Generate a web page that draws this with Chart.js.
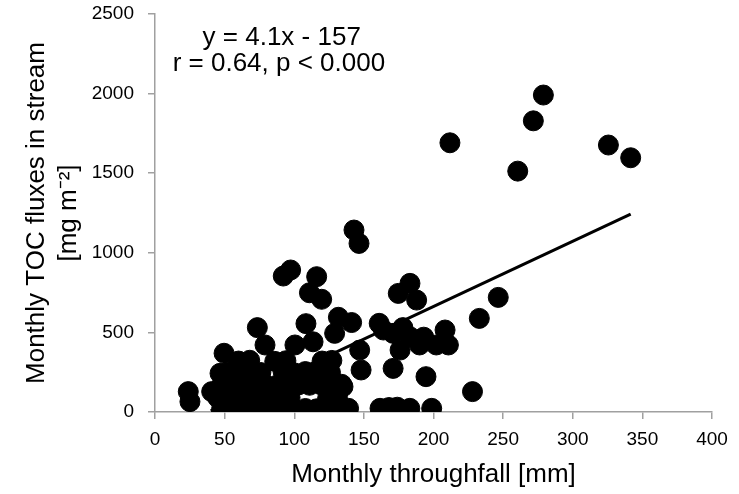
<!DOCTYPE html>
<html>
<head>
<meta charset="utf-8">
<script src="https://cdn.jsdelivr.net/npm/chart.js@4.4.1/dist/chart.umd.min.js"></script>
<style>
  html, body { margin: 0; padding: 0; background: #fff; }
  #wrap { width: 739px; height: 494px; }
</style>
</head>
<body>
<div id="wrap"><canvas id="canvas" width="739" height="494"></canvas></div>
<script>
// Valores: throughfall mensual [mm] y flujo de TOC [mg m-2]
const throughfall = [
  // puntos altos
  211.8, 278.9, 271.7, 260.5, 325.6, 341.6,
  // zona media derecha
  183.1, 174.7, 187.9, 246.5, 232.9, 208.3, 210.7, 202, 183, 190, 176, 171, 164, 161,
  194.6, 228, 178, 193,
  139, 161.6, 168, 174, 183, 198.7,
  // zona media
  142.9, 146.5, 92.1, 97.4, 116.1, 110.9, 119.7, 73.5, 108.4, 131.7, 141.2, 129, 171,
  147, 148, 135, 79, 100.5, 113.5, 49.6,
  // izquierda
  23.9, 25.1, 40.7, 46.7, 47.9,
  // nube densa
  55, 62, 70, 78, 86, 93, 100, 108, 116, 123, 130,
  45, 52, 60, 67, 75, 82, 90, 97, 124, 131,
  48, 56, 63, 71, 79, 87, 95, 103, 111, 119, 127, 134,
  52, 60, 68, 76, 92, 100, 108, 117, 126,
  60, 68, 86, 94, 120, 127
];
const tocFlux = [
  1691, 1991, 1829, 1513, 1677, 1597,
  808, 745, 703, 720, 588, 515, 421, 421, 473, 421, 389, 274, 515, 557,
  222, 128, 530, 470,
  23, 23, 28, 30, 23, 23,
  1143, 1059, 854, 892, 850, 749, 708, 530, 555, 595, 562, 494, 494,
  389, 264, 159, 421, 421, 441, 369,
  128, 65, 128, 243, 23,
  20, 25, 18, 22, 20, 24, 18, 22, 20, 24, 20,
  90, 85, 95, 88, 92, 86, 94, 90, 88, 92,
  170, 165, 175, 168, 172, 166, 174, 170, 168, 172, 166, 174,
  250, 245, 255, 248, 252, 246, 254, 250, 248,
  320, 325, 318, 322, 320, 324
];

// Extremos de la linea de tendencia (y = 4.1x - 157)
const trendX = [40, 341.6];
const trendY = [7, 1243];

// Etiquetas de los ejes
const xTicks = [0, 50, 100, 150, 200, 250, 300, 350, 400];
const yTicks = [0, 500, 1000, 1500, 2000, 2500];
const equationText = ['y = 4.1x - 157', 'r = 0.64, p < 0.000'];

const fontFamily = '"Liberation Sans", Arial, sans-serif';
const axisGrey = '#a0a0a0';

const points = throughfall.map((x, i) => ({ x: x, y: tocFlux[i] }));
const trend = trendX.map((x, i) => ({ x: x, y: trendY[i] }));

// Plugin para escribir la ecuacion de la regresion
const equationPlugin = {
  id: 'equation',
  afterDatasetsDraw(chart) {
    const ctx = chart.ctx;
    const xs = chart.scales.x;
    const ys = chart.scales.y;
    ctx.save();
    ctx.fillStyle = '#000';
    ctx.font = '26px ' + fontFamily;
    ctx.textAlign = 'center';
    ctx.textBaseline = 'middle';
    ctx.fillText(equationText[0], xs.getPixelForValue(91), ys.getPixelForValue(2350));
    ctx.fillText(equationText[1], xs.getPixelForValue(89), ys.getPixelForValue(2190));
    ctx.restore();
  }
};

const grafico = document.getElementById('canvas');

new Chart(grafico, {
  type: 'scatter',
  data: {
    datasets: [
      {
        label: 'TOC',
        data: points,
        backgroundColor: '#000',
        borderColor: '#000',
        borderWidth: 1,
        pointRadius: 10,
        pointHoverRadius: 10,
      },
      {
        type: 'line',
        label: 'Tendencia',
        data: trend,
        borderColor: '#000',
        borderWidth: 3,
        pointRadius: 0,
        fill: false,
      },
    ],
  },
  options: {
    responsive: false,
    animation: false,
    events: [],
    layout: { padding: { top: 14, right: 27, left: 0, bottom: 0 } },
    plugins: {
      legend: { display: false },
      tooltip: { enabled: false },
    },
    scales: {
      x: {
        type: 'linear',
        min: 0,
        max: 400,
        afterBuildTicks: (scale) => { scale.ticks = xTicks.map(v => ({ value: v })); },
        afterFit: (scale) => { scale.height = 82; },
        border: { color: axisGrey, width: 1.5 },
        grid: { display: true, drawOnChartArea: false, drawTicks: true, tickLength: 7, color: axisGrey, lineWidth: 1.5 },
        ticks: {
          color: '#000',
          font: { family: fontFamily, size: 19 },
          padding: 9,
          maxRotation: 0,
          callback: (value) => String(value),
        },
        title: {
          display: true,
          text: 'Monthly throughfall [mm]',
          color: '#000',
          font: { family: fontFamily, size: 26 },
          padding: { top: 0, bottom: 4 },
        },
      },
      y: {
        type: 'linear',
        min: 0,
        max: 2500,
        afterBuildTicks: (scale) => { scale.ticks = yTicks.map(v => ({ value: v })); },
        afterFit: (scale) => {
          // ancho fijo del eje y sin relleno extra arriba/abajo
          scale.width = 155;
          scale.paddingTop = 0;
          scale.paddingBottom = 0;
        },
        border: { color: axisGrey, width: 1.5 },
        grid: { display: true, drawOnChartArea: false, drawTicks: true, tickLength: 7, color: axisGrey, lineWidth: 1.5 },
        ticks: {
          color: '#000',
          font: { family: fontFamily, size: 19 },
          padding: 14,
          callback: (value) => String(value),
        },
        title: {
          display: true,
          text: ['Monthly TOC fluxes in stream', '[mg m\u207B\u00B2]'],
          color: '#000',
          font: { family: fontFamily, size: 26, lineHeight: '32px' },
          padding: { top: 21, bottom: 0 },
        },
      },
    },
  },
  plugins: [equationPlugin],
});
</script>
</body>
</html>
